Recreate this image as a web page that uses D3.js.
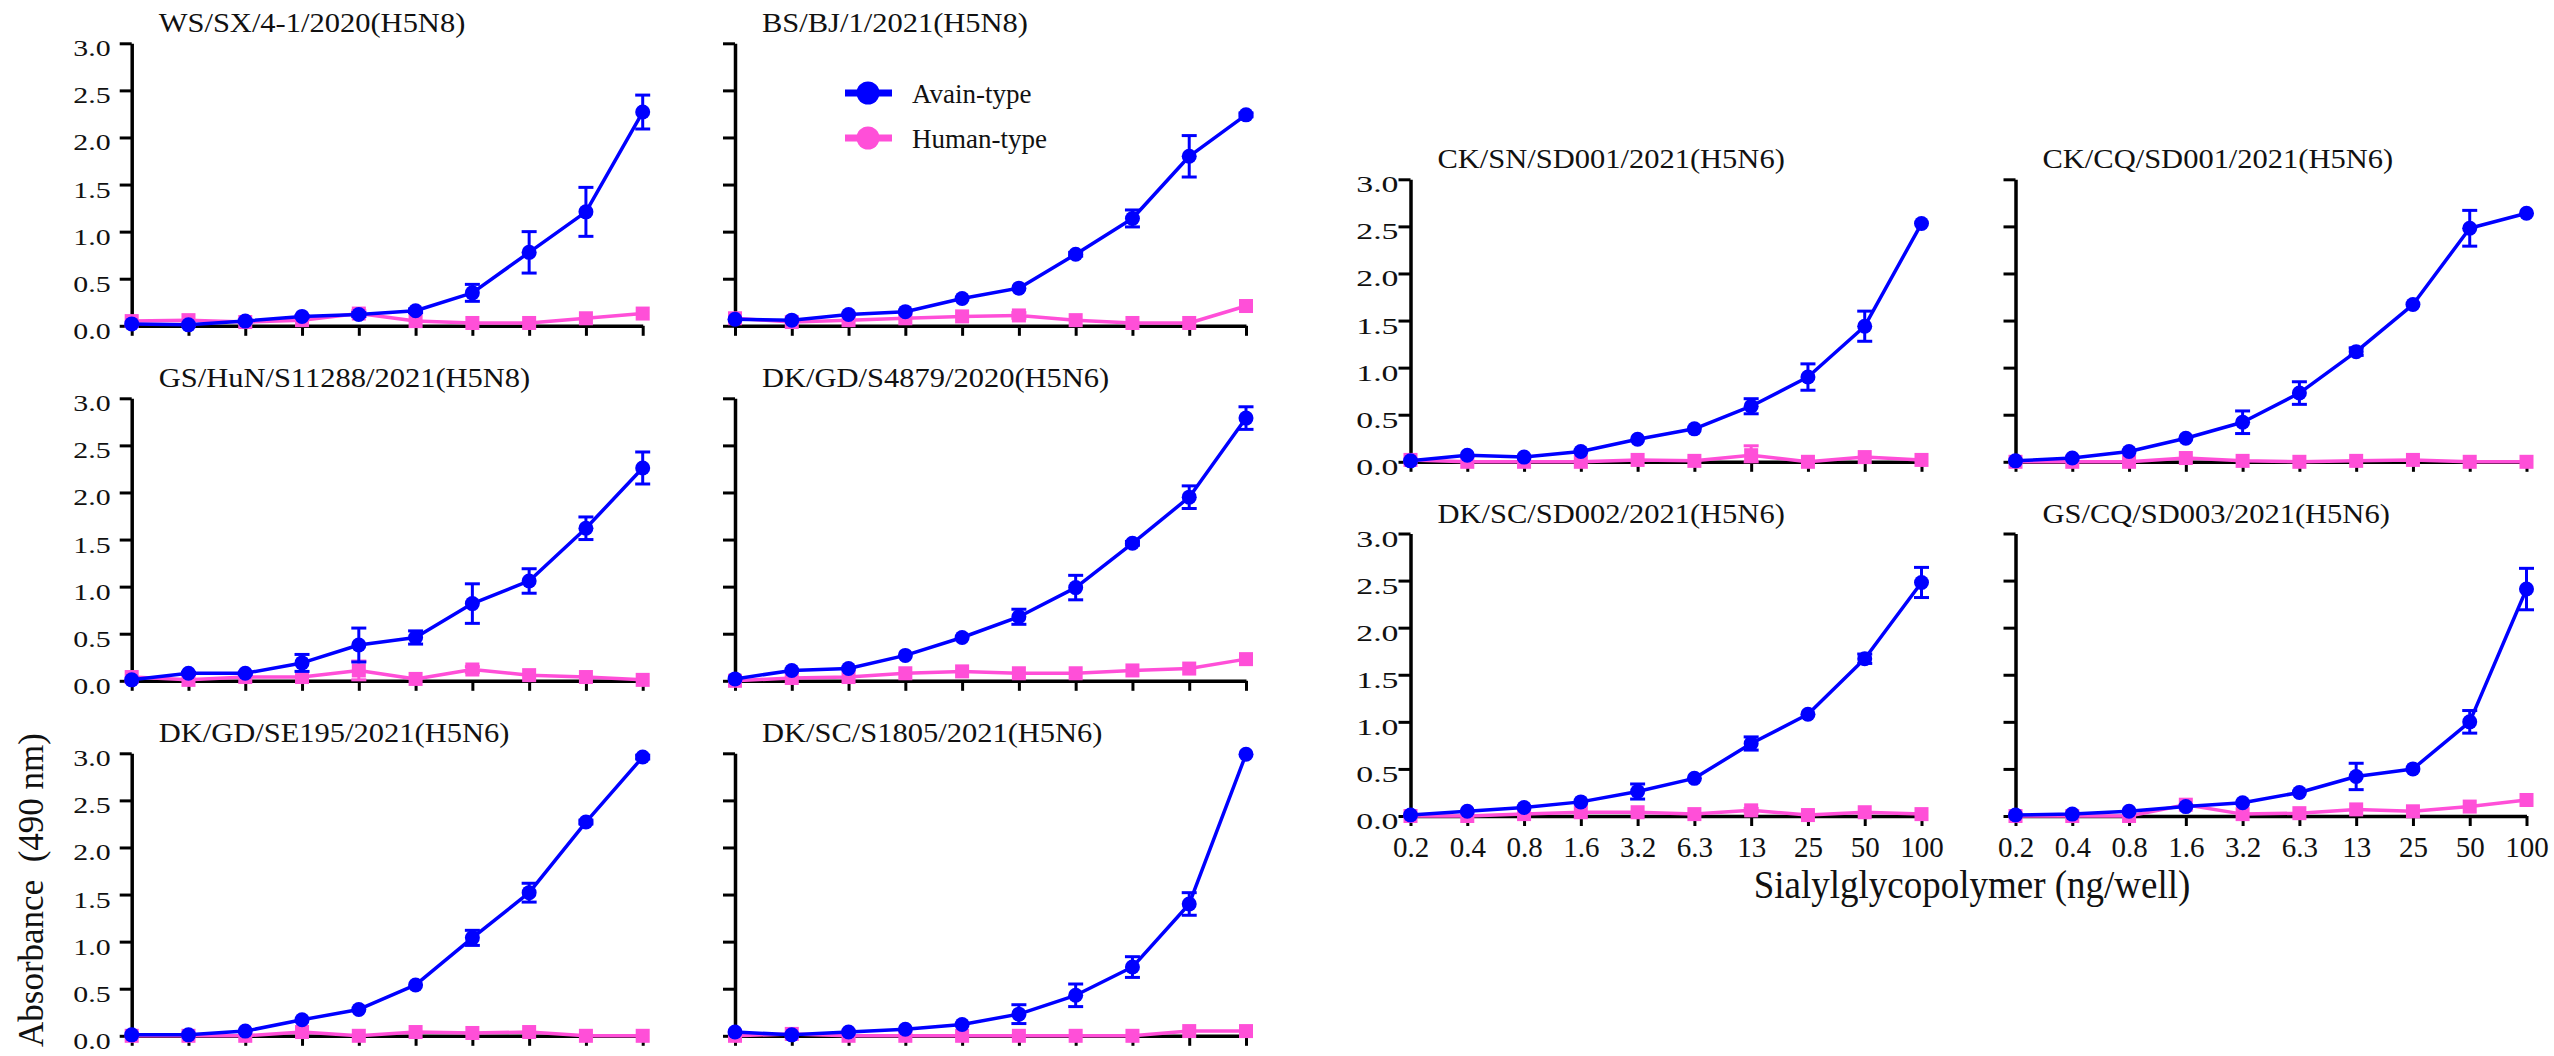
<!DOCTYPE html>
<html>
<head>
<meta charset="utf-8">
<script src="https://cdn.jsdelivr.net/npm/d3@7"></script>
<style>
  html, body { margin: 0; padding: 0; background: #ffffff; }
  svg text { font-family: "Liberation Serif", "Times New Roman", serif; fill: #111; }
</style>
</head>
<body>
<svg id="chart" width="2554" height="1056"></svg>
<script>
// Sialylglycopolymer concentrations (ng/well)
const concentrations = ["0.2", "0.4", "0.8", "1.6", "3.2", "6.3", "13", "25", "50", "100"];
const yTicks = [0, 0.5, 1.0, 1.5, 2.0, 2.5, 3.0];
const seriesNames = ["Avain-type", "Human-type"];

const strains = [
  "WS/SX/4-1/2020(H5N8)",
  "BS/BJ/1/2021(H5N8)",
  "GS/HuN/S11288/2021(H5N8)",
  "DK/GD/S4879/2020(H5N6)",
  "DK/GD/SE195/2021(H5N6)",
  "DK/SC/S1805/2021(H5N6)",
  "CK/SN/SD001/2021(H5N6)",
  "CK/CQ/SD001/2021(H5N6)",
  "DK/SC/SD002/2021(H5N6)",
  "GS/CQ/SD003/2021(H5N6)"
];

// Absorbance at 490 nm, avian-type receptor (mean and SD)
const avianMean = [
  [0.02, 0.01, 0.05, 0.10, 0.12, 0.16, 0.35, 0.78, 1.21, 2.27],
  [0.07, 0.06, 0.12, 0.15, 0.29, 0.40, 0.76, 1.14, 1.80, 2.24],
  [0.01, 0.08, 0.08, 0.19, 0.38, 0.46, 0.82, 1.06, 1.62, 2.26],
  [0.02, 0.11, 0.13, 0.27, 0.46, 0.68, 0.99, 1.46, 1.95, 2.79],
  [0.01, 0.01, 0.05, 0.17, 0.28, 0.54, 1.04, 1.52, 2.27, 2.96],
  [0.04, 0.01, 0.04, 0.07, 0.12, 0.23, 0.43, 0.73, 1.40, 2.99],
  [0.01, 0.07, 0.05, 0.11, 0.24, 0.35, 0.59, 0.90, 1.44, 2.53],
  [0.01, 0.04, 0.11, 0.25, 0.42, 0.73, 1.17, 1.67, 2.48, 2.64],
  [0.01, 0.05, 0.09, 0.15, 0.26, 0.40, 0.77, 1.08, 1.67, 2.48],
  [0.01, 0.02, 0.05, 0.10, 0.14, 0.25, 0.42, 0.50, 1.00, 2.41]
];
const avianSD = [
  [0.00, 0.00, 0.01, 0.01, 0.02, 0.02, 0.09, 0.22, 0.26, 0.18],
  [0.00, 0.00, 0.00, 0.00, 0.00, 0.00, 0.02, 0.09, 0.22, 0.02],
  [0.00, 0.01, 0.01, 0.09, 0.18, 0.07, 0.21, 0.13, 0.12, 0.17],
  [0.00, 0.00, 0.00, 0.00, 0.00, 0.08, 0.13, 0.02, 0.12, 0.12],
  [0.00, 0.00, 0.00, 0.00, 0.00, 0.00, 0.08, 0.10, 0.02, 0.02],
  [0.00, 0.00, 0.00, 0.00, 0.00, 0.10, 0.12, 0.11, 0.12, 0.00],
  [0.00, 0.00, 0.00, 0.00, 0.00, 0.00, 0.08, 0.14, 0.16, 0.00],
  [0.00, 0.00, 0.00, 0.00, 0.12, 0.12, 0.04, 0.00, 0.19, 0.00],
  [0.00, 0.00, 0.00, 0.00, 0.08, 0.00, 0.07, 0.00, 0.05, 0.16],
  [0.00, 0.00, 0.00, 0.00, 0.00, 0.00, 0.14, 0.00, 0.12, 0.22]
];

// Absorbance at 490 nm, human-type receptor (mean and SD)
const humanMean = [
  [0.05, 0.06, 0.04, 0.06, 0.13, 0.05, 0.03, 0.03, 0.08, 0.13],
  [0.08, 0.04, 0.06, 0.08, 0.10, 0.11, 0.06, 0.03, 0.03, 0.21],
  [0.04, 0.01, 0.04, 0.04, 0.11, 0.02, 0.12, 0.06, 0.04, 0.01],
  [0.00, 0.03, 0.04, 0.08, 0.10, 0.08, 0.08, 0.11, 0.13, 0.23],
  [0.00, 0.00, 0.00, 0.04, 0.00, 0.04, 0.03, 0.04, 0.00, 0.00],
  [0.00, 0.02, 0.00, 0.00, 0.00, 0.00, 0.00, 0.00, 0.05, 0.05],
  [0.02, 0.00, 0.00, 0.00, 0.02, 0.01, 0.07, 0.00, 0.05, 0.02],
  [0.00, 0.00, 0.00, 0.04, 0.01, 0.00, 0.01, 0.02, 0.00, 0.00],
  [0.00, 0.00, 0.02, 0.04, 0.04, 0.02, 0.06, 0.01, 0.04, 0.02],
  [0.00, 0.00, 0.00, 0.12, 0.02, 0.03, 0.07, 0.05, 0.10, 0.17]
];
const humanSD = [
  [0.00, 0.00, 0.00, 0.00, 0.03, 0.00, 0.00, 0.00, 0.00, 0.00],
  [0.00, 0.00, 0.00, 0.00, 0.00, 0.03, 0.00, 0.00, 0.00, 0.00],
  [0.00, 0.00, 0.00, 0.00, 0.10, 0.00, 0.03, 0.00, 0.00, 0.00],
  [0.00, 0.00, 0.00, 0.00, 0.00, 0.00, 0.00, 0.00, 0.00, 0.00],
  [0.00, 0.00, 0.00, 0.00, 0.00, 0.00, 0.00, 0.00, 0.00, 0.00],
  [0.00, 0.00, 0.00, 0.00, 0.00, 0.00, 0.00, 0.00, 0.00, 0.00],
  [0.00, 0.00, 0.00, 0.00, 0.00, 0.00, 0.10, 0.00, 0.00, 0.00],
  [0.00, 0.00, 0.00, 0.00, 0.00, 0.00, 0.00, 0.00, 0.00, 0.00],
  [0.00, 0.00, 0.00, 0.00, 0.00, 0.00, 0.02, 0.00, 0.00, 0.00],
  [0.00, 0.00, 0.00, 0.00, 0.00, 0.00, 0.00, 0.00, 0.00, 0.00]
];

const COLORS = { avian: "#0000ff", human: "#ff4fd8" };
const FONT = '"Liberation Serif", "Times New Roman", serif';

// Panel grid: left block is 3 rows x 2 columns, right block is 2 rows x 2 columns
const PANEL_W = 511, PANEL_H = 282.5;
const panels = [
  { x: 131.7, y: 43.3,  yLabels: true,  xLabels: false },
  { x: 735.0, y: 43.3,  yLabels: false, xLabels: false, legend: true },
  { x: 131.7, y: 398.3, yLabels: true,  xLabels: false },
  { x: 735.0, y: 398.3, yLabels: false, xLabels: false },
  { x: 131.7, y: 753.3, yLabels: true,  xLabels: false },
  { x: 735.0, y: 753.3, yLabels: false, xLabels: false },
  { x: 1410.5, y: 179.3, yLabels: true,  xLabels: false, wide: true },
  { x: 2015.5, y: 179.3, yLabels: false, xLabels: false },
  { x: 1410.5, y: 533.5, yLabels: true,  xLabels: true, wide: true },
  { x: 2015.5, y: 533.5, yLabels: false, xLabels: true }
];

const svg = d3.select("#chart");
svg.append("rect").attr("width", 2554).attr("height", 1056).attr("fill", "#fff");

// Text with an optional non-uniform scale around its anchor point
function label(parent, x, y, str, size, opts = {}) {
  const sx = opts.sx || 1, sy = opts.sy || 1, rot = opts.rotate || 0;
  return parent.append("text")
    .attr("transform", `translate(${x},${y}) rotate(${rot}) scale(${sx},${sy})`)
    .attr("text-anchor", opts.anchor || "start")
    .style("font-family", FONT)
    .style("font-size", size + "px")
    .style("white-space", "pre")
    .text(str);
}

panels.forEach((p, i) => {
  const g = svg.append("g");
  const x = d3.scalePoint().domain(concentrations).range([p.x, p.x + PANEL_W]);
  const y = d3.scaleLinear().domain([0, 3]).range([p.y + PANEL_H, p.y]);

  // Y axis
  const yAxis = d3.axisLeft(y).tickValues(yTicks).tickSize(12).tickSizeOuter(0)
    .tickFormat(p.yLabels ? d3.format(".1f") : () => "");
  const ya = g.append("g").attr("transform", `translate(${p.x},0)`).call(yAxis);
  ya.select(".domain").attr("stroke", "#000").attr("stroke-width", 3.5);
  ya.selectAll(".tick line").attr("stroke", "#000").attr("stroke-width", 3);
  ya.selectAll(".tick text")
    .attr("x", null).attr("dy", null)
    .attr("transform", p.wide ? "translate(-12,12.5) scale(1.3,0.85)" : "translate(-21,12.5) scale(1.15,0.85)")
    .attr("text-anchor", "end")
    .attr("fill", "#111")
    .style("font-family", FONT).style("font-size", "26px");

  // X axis along zero
  const xAxis = d3.axisBottom(x).tickSize(10).tickSizeOuter(0)
    .tickFormat(p.xLabels ? (d => d) : () => "");
  const xa = g.append("g").attr("transform", `translate(0,${y(0)})`).call(xAxis);
  xa.select(".domain").attr("stroke", "#000").attr("stroke-width", 3.5);
  xa.selectAll(".tick line").attr("stroke", "#000").attr("stroke-width", 3);
  xa.selectAll(".tick text")
    .attr("y", null).attr("dy", null)
    .attr("transform", "translate(0,41)")
    .attr("fill", "#111")
    .style("font-family", FONT).style("font-size", "29px");

  // Panel title
  label(g, p.x + 27, p.y - 11, strains[i], 30.5, { sy: 0.92 });

  const series = [
    { mean: humanMean[i], sd: humanSD[i], color: COLORS.human, shape: "square" },
    { mean: avianMean[i], sd: avianSD[i], color: COLORS.avian, shape: "circle" }
  ];

  series.forEach(s => {
    const pts = concentrations.map((c, k) => ({ c, v: s.mean[k], e: s.sd[k] }));
    const line = d3.line().x(d => x(d.c)).y(d => y(d.v));
    g.append("path").datum(pts)
      .attr("d", line).attr("fill", "none")
      .attr("stroke", s.color).attr("stroke-width", 3.5).attr("stroke-linejoin", "round");

    const bars = g.append("g").attr("stroke", s.color).attr("stroke-width", 3).attr("fill", "none");
    pts.filter(d => d.e > 0).forEach(d => {
      const cx = x(d.c), y1 = y(d.v + d.e), y2 = y(Math.max(0, d.v - d.e));
      bars.append("line").attr("x1", cx).attr("x2", cx).attr("y1", y1).attr("y2", y2);
      bars.append("line").attr("x1", cx - 7.5).attr("x2", cx + 7.5).attr("y1", y1).attr("y2", y1);
      bars.append("line").attr("x1", cx - 7.5).attr("x2", cx + 7.5).attr("y1", y2).attr("y2", y2);
    });

    if (s.shape === "circle") {
      g.append("g").selectAll("ellipse").data(pts).join("ellipse")
        .attr("cx", d => x(d.c)).attr("cy", d => y(d.v))
        .attr("rx", 7.5).attr("ry", 7.5).attr("fill", s.color);
    } else {
      g.append("g").selectAll("rect").data(pts).join("rect")
        .attr("x", d => x(d.c) - 7).attr("y", d => y(d.v) - 7)
        .attr("width", 14).attr("height", 14).attr("fill", s.color);
    }
  });

  // Legend
  if (p.legend) {
    const lg = g.append("g");
    [COLORS.avian, COLORS.human].forEach((col, k) => {
      const cy = 93 + k * 45;
      lg.append("line").attr("x1", 845).attr("x2", 892).attr("y1", cy).attr("y2", cy)
        .attr("stroke", col).attr("stroke-width", 7);
      lg.append("circle").attr("cx", 868).attr("cy", cy).attr("r", 11.5).attr("fill", col);
      label(lg, 912, cy + 10, seriesNames[k], 27);
    });
  }
});

// Shared axis titles
label(svg, 43, 890, "Absorbance  (490 nm)", 35, { rotate: -90, anchor: "middle" });
label(svg, 1972, 898, "Sialylglycopolymer (ng/well)", 37, { anchor: "middle", sy: 1.08 });
</script>
</body>
</html>
